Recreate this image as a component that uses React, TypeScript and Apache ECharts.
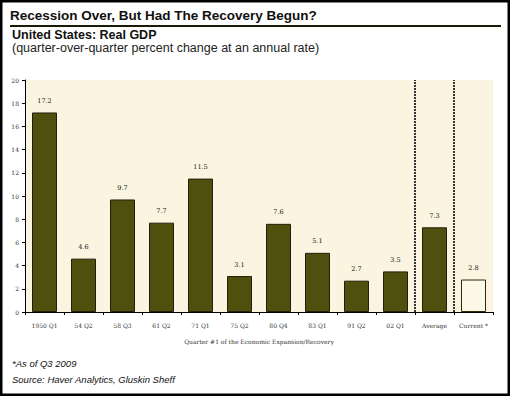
import React, { useEffect, useRef } from "react";
import * as echarts from "echarts";

const categories = ["1950 Q1", "54 Q2", "58 Q3", "61 Q2", "71 Q1", "75 Q2", "80 Q4", "83 Q1", "91 Q2", "02 Q1", "Average", "Current *"];
const gdpValues = [17.2, 4.6, 9.7, 7.7, 11.5, 3.1, 7.6, 5.1, 2.7, 3.5, 7.3, 2.8];
const dividerPositions = [10, 11];

const title = "Recession Over, But Had The Recovery Begun?";
const subtitle = "United States: Real GDP";
const subtitle2 = "(quarter-over-quarter percent change at an annual rate)";
const xAxisName = "Quarter #1 of the Economic Expansion/Recovery";
const note1 = "*As of Q3 2009";
const note2 = "Source: Haver Analytics, Gluskin Sheff";

export default function App() {
  const ref = useRef<HTMLDivElement>(null);
  useEffect(() => {
    if (!ref.current) return;
    const chart = echarts.init(ref.current, null, { renderer: "svg" });
    const font = "Liberation Sans";
    const barColor = "#4f4f0e";
    chart.setOption({
      animation: false,
      backgroundColor: "#ffffff",
      textStyle: { fontFamily: font },
      grid: {
        left: 25,
        right: 17,
        top: 80,
        bottom: 84,
        show: true,
        backgroundColor: "#faf4e0",
        borderWidth: 0,
      },
      xAxis: [
        {
          type: "category",
          data: categories,
          axisLine: { lineStyle: { color: "#000", width: 1 } },
          axisTick: { show: true, length: 3, lineStyle: { color: "#000" } },
          axisLabel: { fontSize: 6, color: "#333", margin: 10, fontFamily: "DejaVu Serif" },
          name: xAxisName,
          nameLocation: "middle",
          nameGap: 26,
          nameTextStyle: { fontSize: 6, color: "#333", fontFamily: "DejaVu Serif" },
        },
        { type: "value", min: 0, max: 12, show: false },
      ],
      yAxis: {
        type: "value",
        min: 0,
        max: 20,
        interval: 2,
        splitLine: { show: false },
        axisLine: { show: true, lineStyle: { color: "#000", width: 1 } },
        axisTick: { show: true, length: 3, lineStyle: { color: "#000" } },
        axisLabel: { fontSize: 6, color: "#333", margin: 6, fontFamily: "DejaVu Serif" },
      },
      series: [
        {
          type: "bar",
          data: gdpValues.map((v, i) =>
            i === gdpValues.length - 1
              ? { value: v, itemStyle: { color: "#fcf8e8", borderColor: "#2a2a05", borderWidth: 1 } }
              : v
          ),
          barWidth: 25,
          itemStyle: { color: barColor, borderColor: "#20200a", borderWidth: 1 },
          label: {
            show: true,
            position: "top",
            distance: 8,
            fontSize: 6.5,
            color: "#111",
            fontFamily: "DejaVu Serif",
            formatter: (p: any) => Number(p.value).toFixed(1),
          },
        },
        {
          type: "line",
          xAxisIndex: 1,
          data: [],
          markLine: {
            silent: true,
            symbol: ["none", "none"],
            label: { show: false },
            lineStyle: { type: [2, 1], color: "#333", width: 2 },
            data: dividerPositions.map((x) => ({ xAxis: x })),
          },
        },
      ],
      graphic: [
        {
          type: "rect",
          shape: { x: 1, y: 1, width: 508, height: 394 },
          style: { fill: "none", stroke: "#000", lineWidth: 3 },
        },
        {
          type: "text",
          left: 10,
          top: 8,
          style: { text: title, fontSize: 13.5, fontWeight: "bold", fill: "#111", fontFamily: font },
        },
        {
          type: "rect",
          shape: { x: 10, y: 25, width: 491, height: 2 },
          style: { fill: "#1a1a05" },
        },
        {
          type: "text",
          left: 12,
          top: 28,
          style: { text: subtitle, fontSize: 12.5, fontWeight: "bold", fill: "#111", fontFamily: font },
        },
        {
          type: "text",
          left: 12,
          top: 41,
          style: { text: subtitle2, fontSize: 12.5, fill: "#222", fontFamily: font },
        },
        {
          type: "text",
          left: 12,
          top: 358,
          style: { text: note1, fontSize: 9.5, fontStyle: "italic", fill: "#111", fontFamily: font },
        },
        {
          type: "text",
          left: 12,
          top: 374,
          style: { text: note2, fontSize: 9.5, fontStyle: "italic", fill: "#111", fontFamily: font },
        },
      ],
    });
    return () => chart.dispose();
  }, []);
  return (
    <div
      ref={ref}
      style={{ position: "absolute", left: 0, top: 0, width: 510, height: 396 }}
    />
  );
}
